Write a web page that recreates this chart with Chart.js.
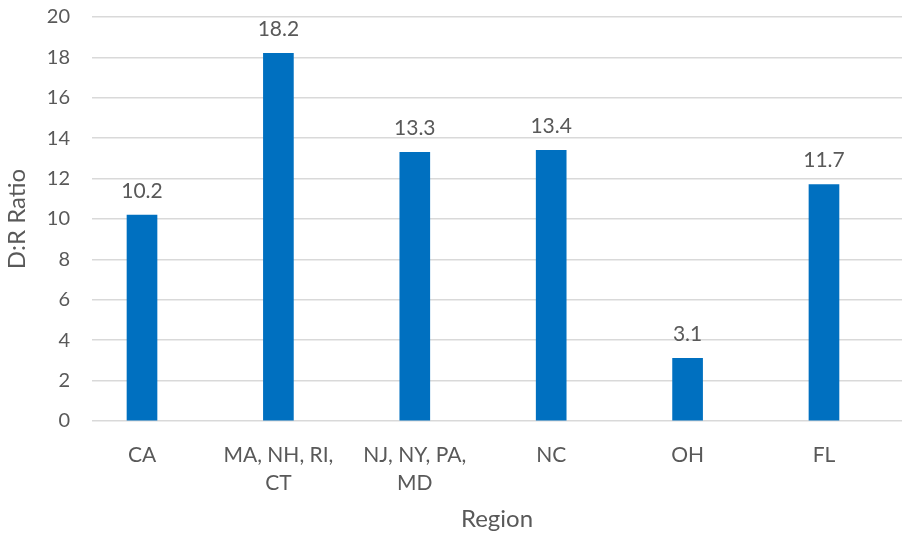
<!DOCTYPE html>
<html>
<head>
<meta charset="utf-8">
<script src="https://cdn.jsdelivr.net/npm/chart.js@4/dist/chart.umd.min.js"></script>
<style>
  html, body { margin: 0; padding: 0; background: #ffffff; }
  #wrap { width: 902px; height: 537px; }
</style>
</head>
<body>
<div id="wrap"><canvas id="chart" width="902" height="537"></canvas></div>
<script>
// Regions and their D:R ratios
const regions = ['CA', ['MA, NH, RI,', 'CT'], ['NJ, NY, PA,', 'MD'], 'NC', 'OH', 'FL'];
const ratios = [10.2, 18.2, 13.3, 13.4, 3.1, 11.7];
const yTicks = [0, 2, 4, 6, 8, 10, 12, 14, 16, 18, 20];

const TEXT = '#595959';
const FONT = 'Lato, "Open Sans", sans-serif';

// Value labels above each bar
const barValueLabels = {
  id: 'barValueLabels',
  afterDatasetsDraw(chart) {
    const ctx = chart.ctx;
    const meta = chart.getDatasetMeta(0);
    ctx.save();
    ctx.fillStyle = TEXT;
    ctx.font = '21px ' + FONT;
    ctx.textAlign = 'center';
    ctx.textBaseline = 'middle';
    meta.data.forEach((bar, i) => {
      ctx.fillText(ratios[i].toFixed(1), bar.x, bar.y - 24);
    });
    ctx.restore();
  }
};

new Chart(document.getElementById('chart'), {
  type: 'bar',
  data: {
    datasets: [{
      data: ratios.map((v, i) => ({ x: i, y: v })),
      backgroundColor: '#0070C0',
      borderWidth: 0,
      barThickness: 30
    }]
  },
  options: {
    responsive: false,
    animation: false,
    layout: { padding: { top: 17, right: 0, left: 0, bottom: 0 } },
    plugins: {
      legend: { display: false },
      tooltip: { enabled: false }
    },
    scales: {
      x: {
        type: 'linear',
        offset: false,
        bounds: 'data',
        min: -0.3666,
        max: 5.572,
        afterBuildTicks(scale) {
          scale.ticks = regions.map((_, i) => ({ value: i }));
        },
        afterFit(scale) { scale.height = 116; },
        grid: { display: false, drawTicks: false, offset: false },
        border: { display: false },
        ticks: {
          autoSkip: false,
          maxRotation: 0,
          padding: 20,
          color: TEXT,
          font: { family: FONT, size: 21, lineHeight: 1.35 },
          callback: (v) => regions[v]
        },
        title: {
          display: true,
          text: 'Region',
          color: TEXT,
          font: { family: FONT, size: 24 },
          padding: { top: 0, bottom: 3 }
        }
      },
      y: {
        min: 0,
        max: 20,
        afterBuildTicks(scale) {
          scale.ticks = yTicks.map(v => ({ value: v }));
        },
        afterFit(scale) {
          scale.width = 92;
          scale.paddingTop = 0;
          scale.paddingBottom = 0;
        },
        grid: { color: '#d9d9d9', lineWidth: 1.5, drawTicks: false },
        border: { display: false },
        ticks: {
          padding: 22,
          color: TEXT,
          font: { family: FONT, size: 20 }
        },
        title: {
          display: true,
          text: 'D:R Ratio',
          color: TEXT,
          font: { family: FONT, size: 24 },
          padding: { top: 3, bottom: 0 }
        }
      }
    }
  },
  plugins: [barValueLabels]
});
</script>
</body>
</html>
